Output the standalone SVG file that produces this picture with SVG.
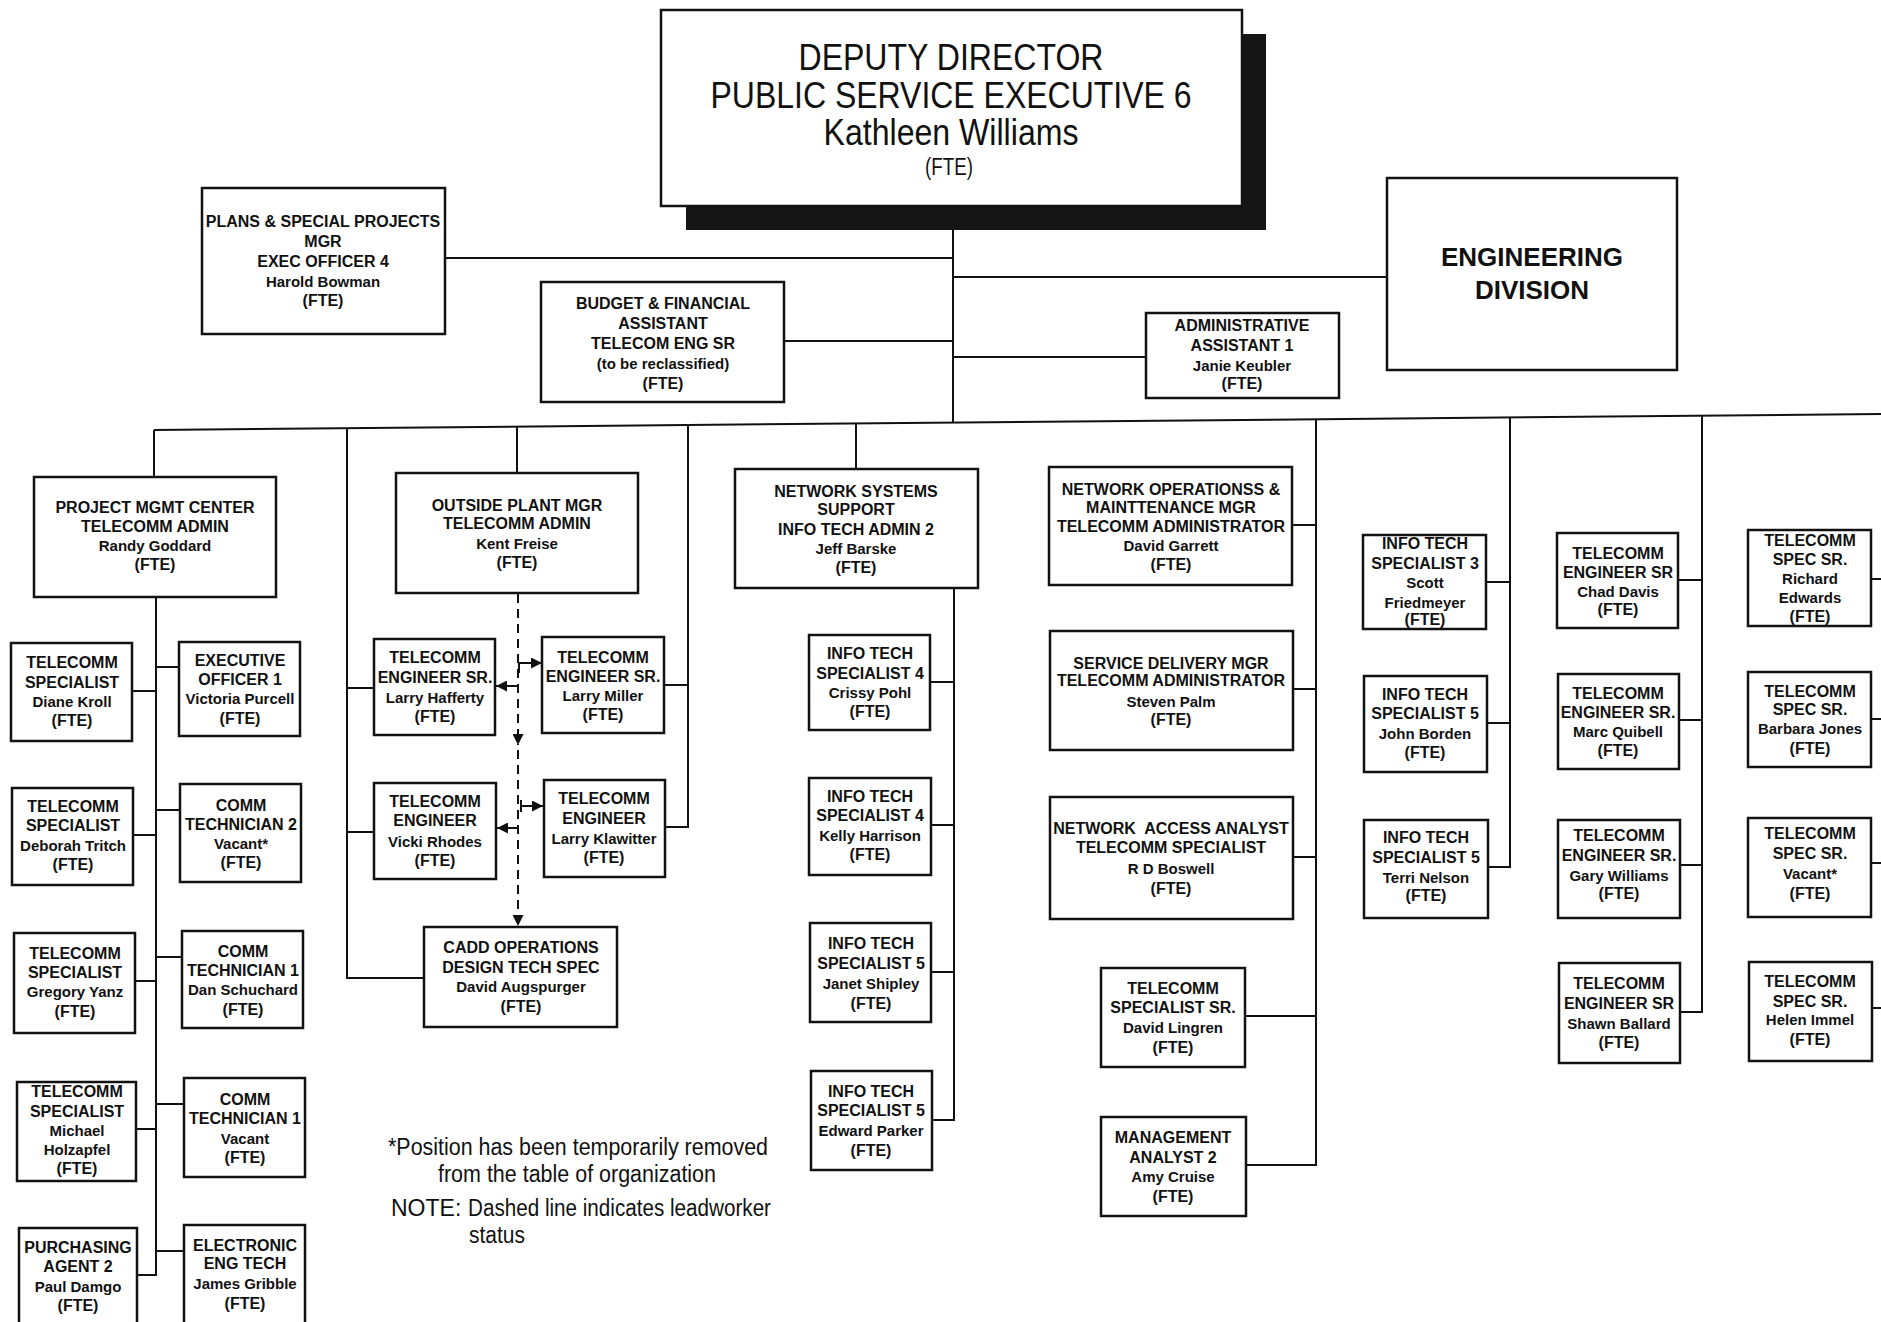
<svg xmlns="http://www.w3.org/2000/svg" width="1881" height="1322" viewBox="0 0 1881 1322">
<defs>
<style>
.box{fill:#fff;stroke:#111;stroke-width:2.5}
.t{font-family:"Liberation Sans",Arial,sans-serif;font-weight:bold;font-size:16px;text-anchor:middle;fill:#111}
.n{font-size:15px}
.dep{font-family:"Liberation Sans",Arial,sans-serif;font-size:36px;text-anchor:middle;fill:#111}
.eng{font-family:"Liberation Sans",Arial,sans-serif;font-weight:bold;font-size:26px;text-anchor:middle;fill:#111}
.fn{font-family:"Liberation Sans",Arial,sans-serif;font-size:23px;fill:#111}
.c{fill:none;stroke:#111;stroke-width:2}
.d{fill:none;stroke:#111;stroke-width:2;stroke-dasharray:9 6}
</style>
<marker id="arr" viewBox="0 0 10 10" refX="10" refY="5" markerWidth="11" markerHeight="11" markerUnits="userSpaceOnUse" orient="auto">
<path d="M0,0 L10,5 L0,10 z" fill="#111"/>
</marker>
</defs>
<rect width="1881" height="1322" fill="#fff"/>

<g id="connectors">
<path class="c" d="M953,230 V423"/>
<path class="c" d="M445,258 H953"/>
<path class="c" d="M785,341 H953"/>
<path class="c" d="M953,277 H1387"/>
<path class="c" d="M953,357 H1146"/>
<path class="c" d="M154,430 L1881,414"/>
<path class="c" d="M154,430 V476"/>
<path class="c" d="M347,428 V978 H424 M347,688 H374 M347,832 H374"/>
<path class="c" d="M517,427 V473"/>
<path class="c" d="M688,425 V827 H665 M688,685 H664"/>
<path class="c" d="M856,424 V469"/>
<path class="c" d="M954,588 V1120 H932 M930,682 H954 M931,825 H954 M931,972 H954"/>
<path class="c" d="M1316,419 V1165 H1246 M1292,525 H1316 M1293,689 H1316 M1293,857 H1316 M1245,1016 H1316"/>
<path class="c" d="M1510,417 V867 H1488 M1486,582 H1510 M1487,723 H1510"/>
<path class="c" d="M1702,416 V1012 H1680 M1678,580 H1702 M1679,720 H1702 M1680,865 H1702"/>
<path class="c" d="M1871,579 H1881 M1871,719 H1881 M1871,863 H1881 M1872,1008 H1881"/>
<path class="c" d="M156,596 V1275 H137 M132,691 H156 M133,835 H156 M135,981 H156 M136,1129 H156 M156,667 H179 M156,810 H180 M156,957 H182 M156,1104 H184 M156,1251 H184"/>
<path class="d" d="M518,594 V745" marker-end="url(#arr)"/>
<path class="d" d="M518,750 V926" marker-end="url(#arr)"/>
<path class="c" d="M519,673 V663 H542" marker-end="url(#arr)"/>
<path class="c" d="M518,686 H496" marker-end="url(#arr)"/>
<path class="c" d="M521,800 V812 M521,806 H543" marker-end="url(#arr)"/>
<path class="c" d="M518,828 H497" marker-end="url(#arr)"/>
</g>

<g id="deputy">
<rect x="686" y="34" width="580" height="196" fill="#151515"/>
<rect class="box" x="661" y="10" width="581" height="196"/>
<text class="dep" x="951" y="70" textLength="305" lengthAdjust="spacingAndGlyphs">DEPUTY DIRECTOR</text>
<text class="dep" x="951" y="108" textLength="481" lengthAdjust="spacingAndGlyphs">PUBLIC SERVICE EXECUTIVE 6</text>
<text class="dep" x="951" y="145" textLength="255" lengthAdjust="spacingAndGlyphs">Kathleen Williams</text>
<text class="dep" x="949" y="175" style="font-size:23px" textLength="48" lengthAdjust="spacingAndGlyphs">(FTE)</text>
</g>

<g id="plans">
<rect class="box" x="202" y="188" width="243" height="146"/>
<text class="t" x="323" y="227">PLANS &amp; SPECIAL PROJECTS</text>
<text class="t" x="323" y="247">MGR</text>
<text class="t" x="323" y="267">EXEC OFFICER 4</text>
<text class="t n" x="323" y="287">Harold Bowman</text>
<text class="t" x="323" y="306">(FTE)</text>
</g>

<g id="budget">
<rect class="box" x="541" y="282" width="243" height="120"/>
<text class="t" x="663" y="309">BUDGET &amp; FINANCIAL</text>
<text class="t" x="663" y="329">ASSISTANT</text>
<text class="t" x="663" y="349">TELECOM ENG SR</text>
<text class="t n" x="663" y="369">(to be reclassified)</text>
<text class="t" x="663" y="389">(FTE)</text>
</g>

<g id="engineering">
<rect class="box" x="1387" y="178" width="290" height="192"/>
<text class="eng" x="1532" y="266">ENGINEERING</text>
<text class="eng" x="1532" y="299">DIVISION</text>
</g>

<g id="admin">
<rect class="box" x="1146" y="313" width="193" height="85"/>
<text class="t" x="1242" y="331">ADMINISTRATIVE</text>
<text class="t" x="1242" y="351">ASSISTANT 1</text>
<text class="t n" x="1242" y="371">Janie Keubler</text>
<text class="t" x="1242" y="389">(FTE)</text>
</g>

<g id="pmc">
<rect class="box" x="34" y="477" width="242" height="120"/>
<text class="t" x="155" y="513">PROJECT MGMT CENTER</text>
<text class="t" x="155" y="532">TELECOMM ADMIN</text>
<text class="t n" x="155" y="551">Randy Goddard</text>
<text class="t" x="155" y="570">(FTE)</text>
</g>

<g id="diane">
<rect class="box" x="11" y="643" width="121" height="98"/>
<text class="t" x="72" y="668">TELECOMM</text>
<text class="t" x="72" y="688">SPECIALIST</text>
<text class="t n" x="72" y="707">Diane Kroll</text>
<text class="t" x="72" y="726">(FTE)</text>
</g>

<g id="eo1">
<rect class="box" x="179" y="642" width="121" height="94"/>
<text class="t" x="240" y="666">EXECUTIVE</text>
<text class="t" x="240" y="685">OFFICER 1</text>
<text class="t n" x="240" y="704">Victoria Purcell</text>
<text class="t" x="240" y="724">(FTE)</text>
</g>

<g id="deborah">
<rect class="box" x="12" y="788" width="121" height="97"/>
<text class="t" x="73" y="812">TELECOMM</text>
<text class="t" x="73" y="831">SPECIALIST</text>
<text class="t n" x="73" y="851">Deborah Tritch</text>
<text class="t" x="73" y="870">(FTE)</text>
</g>

<g id="ct2">
<rect class="box" x="180" y="784" width="121" height="98"/>
<text class="t" x="241" y="811">COMM</text>
<text class="t" x="241" y="830">TECHNICIAN 2</text>
<text class="t n" x="241" y="849">Vacant*</text>
<text class="t" x="241" y="868">(FTE)</text>
</g>

<g id="gregory">
<rect class="box" x="14" y="933" width="121" height="100"/>
<text class="t" x="75" y="959">TELECOMM</text>
<text class="t" x="75" y="978">SPECIALIST</text>
<text class="t n" x="75" y="997">Gregory Yanz</text>
<text class="t" x="75" y="1017">(FTE)</text>
</g>

<g id="dan">
<rect class="box" x="182" y="931" width="121" height="97"/>
<text class="t" x="243" y="957">COMM</text>
<text class="t" x="243" y="976">TECHNICIAN 1</text>
<text class="t n" x="243" y="995">Dan Schuchard</text>
<text class="t" x="243" y="1015">(FTE)</text>
</g>

<g id="michael">
<rect class="box" x="17" y="1082" width="119" height="99"/>
<text class="t" x="77" y="1097">TELECOMM</text>
<text class="t" x="77" y="1117">SPECIALIST</text>
<text class="t n" x="77" y="1136">Michael</text>
<text class="t n" x="77" y="1155">Holzapfel</text>
<text class="t" x="77" y="1174">(FTE)</text>
</g>

<g id="ct1v">
<rect class="box" x="184" y="1078" width="121" height="99"/>
<text class="t" x="245" y="1105">COMM</text>
<text class="t" x="245" y="1124">TECHNICIAN 1</text>
<text class="t n" x="245" y="1144">Vacant</text>
<text class="t" x="245" y="1163">(FTE)</text>
</g>

<g id="purchasing">
<rect class="box" x="19" y="1228" width="118" height="104"/>
<text class="t" x="78" y="1253">PURCHASING</text>
<text class="t" x="78" y="1272">AGENT 2</text>
<text class="t n" x="78" y="1292">Paul Damgo</text>
<text class="t" x="78" y="1311">(FTE)</text>
</g>

<g id="electronic">
<rect class="box" x="184" y="1225" width="121" height="107"/>
<text class="t" x="245" y="1251">ELECTRONIC</text>
<text class="t" x="245" y="1269">ENG TECH</text>
<text class="t n" x="245" y="1289">James Gribble</text>
<text class="t" x="245" y="1309">(FTE)</text>
</g>

<g id="outside">
<rect class="box" x="396" y="473" width="242" height="120"/>
<text class="t" x="517" y="511">OUTSIDE PLANT MGR</text>
<text class="t" x="517" y="529">TELECOMM ADMIN</text>
<text class="t n" x="517" y="549">Kent Freise</text>
<text class="t" x="517" y="568">(FTE)</text>
</g>

<g id="hafferty">
<rect class="box" x="374" y="639" width="121" height="96"/>
<text class="t" x="435" y="663">TELECOMM</text>
<text class="t" x="435" y="683">ENGINEER SR.</text>
<text class="t n" x="435" y="703">Larry Hafferty</text>
<text class="t" x="435" y="722">(FTE)</text>
</g>

<g id="miller">
<rect class="box" x="542" y="637" width="122" height="96"/>
<text class="t" x="603" y="663">TELECOMM</text>
<text class="t" x="603" y="682">ENGINEER SR.</text>
<text class="t n" x="603" y="701">Larry Miller</text>
<text class="t" x="603" y="720">(FTE)</text>
</g>

<g id="vicki">
<rect class="box" x="374" y="783" width="122" height="96"/>
<text class="t" x="435" y="807">TELECOMM</text>
<text class="t" x="435" y="826">ENGINEER</text>
<text class="t n" x="435" y="847">Vicki Rhodes</text>
<text class="t" x="435" y="866">(FTE)</text>
</g>

<g id="klawitter">
<rect class="box" x="544" y="780" width="121" height="97"/>
<text class="t" x="604" y="804">TELECOMM</text>
<text class="t" x="604" y="824">ENGINEER</text>
<text class="t n" x="604" y="844">Larry Klawitter</text>
<text class="t" x="604" y="863">(FTE)</text>
</g>

<g id="cadd">
<rect class="box" x="424" y="927" width="193" height="100"/>
<text class="t" x="521" y="953">CADD OPERATIONS</text>
<text class="t" x="521" y="973">DESIGN TECH SPEC</text>
<text class="t n" x="521" y="992">David Augspurger</text>
<text class="t" x="521" y="1012">(FTE)</text>
</g>

<g id="netsys">
<rect class="box" x="735" y="469" width="243" height="119"/>
<text class="t" x="856" y="497">NETWORK SYSTEMS</text>
<text class="t" x="856" y="515">SUPPORT</text>
<text class="t" x="856" y="535">INFO TECH ADMIN 2</text>
<text class="t n" x="856" y="554">Jeff Barske</text>
<text class="t" x="856" y="573">(FTE)</text>
</g>

<g id="crissy">
<rect class="box" x="809" y="635" width="121" height="95"/>
<text class="t" x="870" y="659">INFO TECH</text>
<text class="t" x="870" y="679">SPECIALIST 4</text>
<text class="t n" x="870" y="698">Crissy Pohl</text>
<text class="t" x="870" y="717">(FTE)</text>
</g>

<g id="kelly">
<rect class="box" x="809" y="778" width="122" height="97"/>
<text class="t" x="870" y="802">INFO TECH</text>
<text class="t" x="870" y="821">SPECIALIST 4</text>
<text class="t n" x="870" y="841">Kelly Harrison</text>
<text class="t" x="870" y="860">(FTE)</text>
</g>

<g id="janet">
<rect class="box" x="810" y="923" width="121" height="99"/>
<text class="t" x="871" y="949">INFO TECH</text>
<text class="t" x="871" y="969">SPECIALIST 5</text>
<text class="t n" x="871" y="989">Janet Shipley</text>
<text class="t" x="871" y="1009">(FTE)</text>
</g>

<g id="edward">
<rect class="box" x="811" y="1071" width="121" height="99"/>
<text class="t" x="871" y="1097">INFO TECH</text>
<text class="t" x="871" y="1116">SPECIALIST 5</text>
<text class="t n" x="871" y="1136">Edward Parker</text>
<text class="t" x="871" y="1156">(FTE)</text>
</g>

<g id="netops">
<rect class="box" x="1049" y="467" width="243" height="118"/>
<text class="t" x="1171" y="495">NETWORK OPERATIONSS &amp;</text>
<text class="t" x="1171" y="513">MAINTTENANCE MGR</text>
<text class="t" x="1171" y="532">TELECOMM ADMINISTRATOR</text>
<text class="t n" x="1171" y="551">David Garrett</text>
<text class="t" x="1171" y="570">(FTE)</text>
</g>

<g id="service">
<rect class="box" x="1050" y="631" width="243" height="119"/>
<text class="t" x="1171" y="669">SERVICE DELIVERY MGR</text>
<text class="t" x="1171" y="686">TELECOMM ADMINISTRATOR</text>
<text class="t n" x="1171" y="707">Steven Palm</text>
<text class="t" x="1171" y="725">(FTE)</text>
</g>

<g id="access">
<rect class="box" x="1050" y="797" width="243" height="122"/>
<text class="t" x="1171" y="834" style="white-space:pre">NETWORK  ACCESS ANALYST</text>
<text class="t" x="1171" y="853">TELECOMM SPECIALIST</text>
<text class="t n" x="1171" y="874">R D Boswell</text>
<text class="t" x="1171" y="894">(FTE)</text>
</g>

<g id="lingren">
<rect class="box" x="1101" y="968" width="144" height="99"/>
<text class="t" x="1173" y="994">TELECOMM</text>
<text class="t" x="1173" y="1013">SPECIALIST SR.</text>
<text class="t n" x="1173" y="1033">David Lingren</text>
<text class="t" x="1173" y="1053">(FTE)</text>
</g>

<g id="mgmt">
<rect class="box" x="1101" y="1117" width="145" height="99"/>
<text class="t" x="1173" y="1143">MANAGEMENT</text>
<text class="t" x="1173" y="1163">ANALYST 2</text>
<text class="t n" x="1173" y="1182">Amy Cruise</text>
<text class="t" x="1173" y="1202">(FTE)</text>
</g>

<g id="scott">
<rect class="box" x="1363" y="535" width="123" height="94"/>
<text class="t" x="1425" y="549">INFO TECH</text>
<text class="t" x="1425" y="569">SPECIALIST 3</text>
<text class="t n" x="1425" y="588">Scott</text>
<text class="t n" x="1425" y="608">Friedmeyer</text>
<text class="t" x="1425" y="625">(FTE)</text>
</g>

<g id="john">
<rect class="box" x="1364" y="676" width="123" height="96"/>
<text class="t" x="1425" y="700">INFO TECH</text>
<text class="t" x="1425" y="719">SPECIALIST 5</text>
<text class="t n" x="1425" y="739">John Borden</text>
<text class="t" x="1425" y="758">(FTE)</text>
</g>

<g id="terri">
<rect class="box" x="1364" y="820" width="124" height="98"/>
<text class="t" x="1426" y="843">INFO TECH</text>
<text class="t" x="1426" y="863">SPECIALIST 5</text>
<text class="t n" x="1426" y="883">Terri Nelson</text>
<text class="t" x="1426" y="901">(FTE)</text>
</g>

<g id="chad">
<rect class="box" x="1557" y="533" width="121" height="95"/>
<text class="t" x="1618" y="559">TELECOMM</text>
<text class="t" x="1618" y="578">ENGINEER SR</text>
<text class="t n" x="1618" y="597">Chad Davis</text>
<text class="t" x="1618" y="615">(FTE)</text>
</g>

<g id="marc">
<rect class="box" x="1558" y="674" width="121" height="95"/>
<text class="t" x="1618" y="699">TELECOMM</text>
<text class="t" x="1618" y="718">ENGINEER SR.</text>
<text class="t n" x="1618" y="737">Marc Quibell</text>
<text class="t" x="1618" y="756">(FTE)</text>
</g>

<g id="gary">
<rect class="box" x="1558" y="820" width="122" height="98"/>
<text class="t" x="1619" y="841">TELECOMM</text>
<text class="t" x="1619" y="861">ENGINEER SR.</text>
<text class="t n" x="1619" y="881">Gary Williams</text>
<text class="t" x="1619" y="899">(FTE)</text>
</g>

<g id="shawn">
<rect class="box" x="1559" y="963" width="121" height="100"/>
<text class="t" x="1619" y="989">TELECOMM</text>
<text class="t" x="1619" y="1009">ENGINEER SR</text>
<text class="t n" x="1619" y="1029">Shawn Ballard</text>
<text class="t" x="1619" y="1048">(FTE)</text>
</g>

<g id="richard">
<rect class="box" x="1748" y="530" width="123" height="96"/>
<text class="t" x="1810" y="546">TELECOMM</text>
<text class="t" x="1810" y="565">SPEC SR.</text>
<text class="t n" x="1810" y="584">Richard</text>
<text class="t n" x="1810" y="603">Edwards</text>
<text class="t" x="1810" y="622">(FTE)</text>
</g>

<g id="barbara">
<rect class="box" x="1748" y="672" width="123" height="95"/>
<text class="t" x="1810" y="697">TELECOMM</text>
<text class="t" x="1810" y="715">SPEC SR.</text>
<text class="t n" x="1810" y="734">Barbara Jones</text>
<text class="t" x="1810" y="754">(FTE)</text>
</g>

<g id="vacantsr">
<rect class="box" x="1748" y="818" width="123" height="99"/>
<text class="t" x="1810" y="839">TELECOMM</text>
<text class="t" x="1810" y="859">SPEC SR.</text>
<text class="t n" x="1810" y="879">Vacant*</text>
<text class="t" x="1810" y="899">(FTE)</text>
</g>

<g id="helen">
<rect class="box" x="1749" y="962" width="123" height="99"/>
<text class="t" x="1810" y="987">TELECOMM</text>
<text class="t" x="1810" y="1007">SPEC SR.</text>
<text class="t n" x="1810" y="1025">Helen Immel</text>
<text class="t" x="1810" y="1045">(FTE)</text>
</g>

<g id="notes">
<text class="fn" x="388" y="1155" textLength="380" lengthAdjust="spacingAndGlyphs">*Position has been temporarily removed</text>
<text class="fn" x="438" y="1182" textLength="278" lengthAdjust="spacingAndGlyphs">from the table of organization</text>
<text class="fn" y="1216"><tspan x="391">NOTE: </tspan><tspan x="468" textLength="303" lengthAdjust="spacingAndGlyphs">Dashed line indicates leadworker</tspan></text>
<text class="fn" x="469" y="1243" textLength="56" lengthAdjust="spacingAndGlyphs">status</text>
</g>
</svg>
